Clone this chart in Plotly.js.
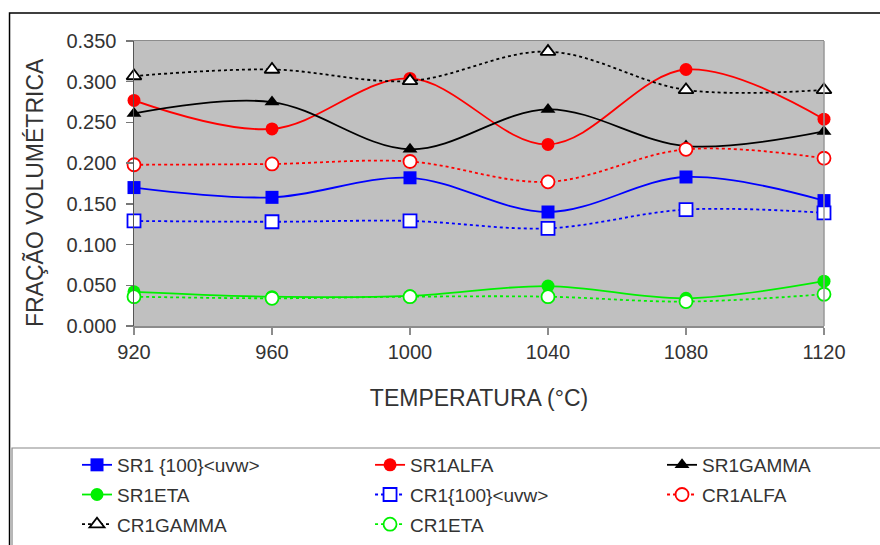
<!DOCTYPE html>
<html>
<head>
<meta charset="utf-8">
<script src="https://cdn.plot.ly/plotly-3.0.1.min.js"></script>
<style>html,body{margin:0;padding:0;background:#fff;}#chart{width:880px;height:545px;}</style>
</head>
<body>
<div id="chart"></div>
<script>
var temperatures = [920, 960, 1000, 1040, 1080, 1120];
var sr1_100 = [0.170, 0.158, 0.182, 0.140, 0.183, 0.154];
var sr1Alfa = [0.277, 0.242, 0.304, 0.223, 0.315, 0.254];
var sr1Gamma = [0.261, 0.275, 0.217, 0.266, 0.221, 0.239];
var sr1Eta = [0.042, 0.036, 0.037, 0.049, 0.034, 0.055];
var cr1_100 = [0.129, 0.128, 0.129, 0.120, 0.143, 0.139];
var cr1Alfa = [0.198, 0.199, 0.202, 0.177, 0.217, 0.206];
var cr1Gamma = [0.307, 0.315, 0.301, 0.337, 0.290, 0.290];
var cr1Eta = [0.036, 0.034, 0.036, 0.036, 0.030, 0.039];
var yTicks = [0, 0.05, 0.1, 0.15, 0.2, 0.25, 0.3, 0.35];
var yTickText = ["0.000","0.050","0.100","0.150","0.200","0.250","0.300","0.350"];
var xTickText = ["920","960","1000","1040","1080","1120"];
var yTitle = 'FRAÇÃO VOLUMÉTRICA';
var xTitle = 'TEMPERATURA (°C)';

function tr(name, y, color, dash, symbol, open, legendId) {
  return {
    x: temperatures, y: y, name: name, type: 'scatter', mode: 'lines+markers',
    cliponaxis: false, legend: legendId, legendgroup: name,
    line: {color: color, width: 1.8, dash: dash, shape: 'spline', smoothing: 1},
    marker: {symbol: symbol, size: 13,
      color: open ? '#ffffff' : color,
      line: {color: color, width: open ? 1.8 : 0}}
  };
}

var data = [
  tr('SR1 {100}&lt;uvw&gt;', sr1_100, '#0000ff', 'solid', 'square', false, 'legend'),
  tr('SR1ALFA', sr1Alfa, '#ff0000', 'solid', 'circle', false, 'legend2'),
  tr('SR1GAMMA', sr1Gamma, '#000000', 'solid', 'triangle-up', false, 'legend3'),
  tr('SR1ETA', sr1Eta, '#00f000', 'solid', 'circle', false, 'legend'),
  tr('CR1{100}&lt;uvw&gt;', cr1_100, '#0000ff', 'dot', 'square', true, 'legend2'),
  tr('CR1ALFA', cr1Alfa, '#ff0000', 'dot', 'circle', true, 'legend3'),
  tr('CR1GAMMA', cr1Gamma, '#000000', 'dot', 'triangle-up', true, 'legend'),
  tr('CR1ETA', cr1Eta, '#00f000', 'dot', 'circle', true, 'legend2')
];

var fontFam = '"Liberation Sans", Arial, sans-serif';
function leg(x) {
  return {
    orientation: 'v', xref: 'container', yref: 'container',
    x: x, y: 0.1817, xanchor: 'left', yanchor: 'top',
    bgcolor: 'rgba(0,0,0,0)', traceorder: 'grouped', tracegroupgap: 2,
    font: {size: 19, color: '#333333'}
  };
}
var layout = {
  width: 880, height: 545,
  margin: {l: 134, r: 56, t: 41, b: 219, autoexpand: false},
  paper_bgcolor: '#ffffff',
  plot_bgcolor: '#c0c0c0',
  font: {family: fontFam, color: '#333333', size: 20},
  showlegend: true,
  xaxis: {
    type: 'linear', range: [920, 1120], tickvals: temperatures, ticktext: xTickText,
    showgrid: false, zeroline: false, showline: true, linecolor: '#8c8c8c', linewidth: 1.5, mirror: true,
    ticks: 'outside', ticklen: 7, tickcolor: '#8c8c8c', tickwidth: 1.5,
    tickfont: {size: 20, color: '#333333'}, tickangle: 0, automargin: false,
    title: {text: xTitle, font: {size: 23, color: '#333333'}, standoff: 28}
  },
  yaxis: {
    range: [0, 0.35], tickvals: yTicks, ticktext: yTickText,
    showgrid: false, zeroline: false, showline: true, linecolor: '#555555', linewidth: 1.5,
    ticks: 'outside', ticklen: 7, tickcolor: '#777777', tickwidth: 1.5,
    ticklabelstandoff: 5,
    tickfont: {size: 20, color: '#333333'}
  },
  legend: leg(0.0875),
  legend2: leg(0.4205),
  legend3: leg(0.7523),
  annotations: [
    {text: yTitle, xref: 'paper', yref: 'paper', x: -0.1435, y: 0.47,
     xanchor: 'center', yanchor: 'middle', textangle: -90, showarrow: false,
     font: {size: 23, color: '#333333'}}
  ],
  shapes: [
    {type: 'line', xref: 'paper', yref: 'paper', x0: 1, x1: 1, y0: 0, y1: 1,
     line: {color: '#999999', width: 1.5}},
    {type: 'rect', xref: 'paper', yref: 'paper', x0: -0.1768, x1: 1.2, y0: -0.428, y1: -0.85,
     line: {color: '#888888', width: 1.2}},
    {type: 'rect', xref: 'paper', yref: 'paper', x0: -0.1804, x1: 1.2, y0: 1.098, y1: -0.85,
     line: {color: '#000000', width: 1.5}}
  ]
};

Plotly.newPlot('chart', data, layout, {displayModeBar: false, staticPlot: true});
</script>
</body>
</html>
